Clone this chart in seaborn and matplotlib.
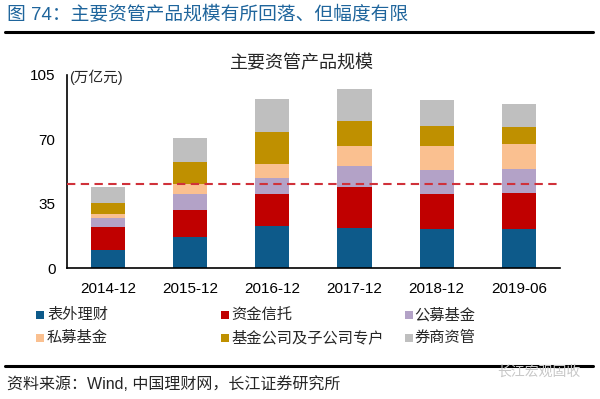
import matplotlib
matplotlib.use('Agg')
import matplotlib.pyplot as plt
import seaborn as sns
import numpy as np
from matplotlib.patches import Rectangle
from matplotlib.lines import Line2D

# ---- data (万亿元) ----
periods = ['2014-12', '2015-12', '2016-12', '2017-12', '2018-12', '2019-06']
series_names = ['表外理财', '资金信托', '公募基金', '私募基金', '基金公司及子公司专户', '券商资管']
bank_wmp = [10.0, 16.9, 23.0, 21.8, 21.4, 21.4]
trust = [12.6, 14.8, 17.3, 22.1, 19.0, 19.4]
mutual_fund = [4.9, 8.6, 9.0, 11.4, 13.1, 13.2]
private_fund = [1.9, 5.4, 7.6, 10.9, 12.7, 13.6]
fund_subsidiary = [6.0, 12.3, 17.4, 13.9, 11.2, 8.9]
broker_am = [8.7, 12.7, 17.8, 17.5, 14.2, 12.9]
ref_level = 45.7
yticks = [0, 35, 70, 105]

colors = ['#0D5A8A', '#C00000', '#B3A2C7', '#FAC090', '#BF9000', '#BFBFBF']

sns.set_theme(style='white')
plt.rcParams['font.family'] = ['Liberation Sans', 'Noto Sans CJK SC', 'DejaVu Sans']
plt.rcParams['axes.unicode_minus'] = False

W, H = 600, 399
fig = plt.figure(figsize=(6, 3.99), dpi=100)
fx = lambda px: px / W
fy = lambda py: 1 - py / H

ax = fig.add_axes([fx(66.7), fy(268.3), fx(560) - fx(66.7), fy(75) - fy(268.3)])

layers = [bank_wmp, trust, mutual_fund, private_fund, fund_subsidiary, broker_am]
cum = np.cumsum(np.array(layers), axis=0)
for i in reversed(range(len(layers))):
    sns.barplot(x=periods, y=cum[i], color=colors[i], width=0.415,
                saturation=1, ax=ax, errorbar=None, linewidth=0, zorder=2)

ax.axhline(ref_level, color='#D0313A', ls=(0, (4, 2.6)), lw=1.5, zorder=5)

ax.set_xlim(-0.5, 5.5)
ax.set_ylim(0, 105)
ax.set_yticks(yticks)
ax.set_yticklabels([str(v) for v in yticks], fontsize=11)
ax.set_xticks(range(len(periods)))
ax.set_xticklabels(periods, fontsize=11)
ax.set_xticks(np.arange(-0.5, 6.0, 1.0), minor=True)
ax.tick_params(axis='x', which='major', length=0, pad=10, colors='black')
ax.tick_params(axis='x', which='minor', length=5, width=1.2, direction='out', color='black')
ax.tick_params(axis='y', which='major', length=4, width=1.2, direction='out', pad=4, colors='black')
ax.set_xlabel('')
ax.set_ylabel('')
for s in ['top', 'right']:
    ax.spines[s].set_visible(False)
for s in ['left', 'bottom']:
    ax.spines[s].set_color('black')
    ax.spines[s].set_linewidth(1.2)
ax.grid(False)

fig.text(fx(69), fy(77), '(万亿元)', fontsize=10.5, va='center', ha='left')
fig.text(fx(302), fy(64), '主要资管产品规模', fontsize=13, va='center', ha='center')

# header
fig.text(fx(7), fy(15), '图 74：主要资管产品规模有所回落、但幅度有限', fontsize=13.5,
         color='#1F659C', va='center', ha='left', fontweight='medium')
fig.add_artist(Line2D([fx(5), fx(593)], [fy(32), fy(32)], color='black', lw=2.2))

# legend
sq_x = [36, 221, 405]
tx_x = [47, 231, 414]
row_y = [315, 338]
for k, name in enumerate(series_names):
    r, c = divmod(k, 3)
    cy = row_y[r]
    fig.add_artist(Rectangle((fx(sq_x[c]), fy(cy + 4)), fx(8), fy(0) - fy(8),
                             facecolor=colors[k], edgecolor='none'))
    fig.text(fx(tx_x[c]), fy(cy), name, fontsize=11, va='center', ha='left')

# footer
fig.add_artist(Line2D([fx(5), fx(593)], [fy(366), fy(366)], color='black', lw=2.2))
fig.text(fx(7), fy(384), '资料来源：Wind, 中国理财网，长江证券研究所', fontsize=11.5,
         va='center', ha='left')
fig.text(fx(497), fy(372), '长江宏观固收', fontsize=10, color='#C8C8C8',
         va='center', ha='left')

fig.savefig('out.png', dpi=100)
